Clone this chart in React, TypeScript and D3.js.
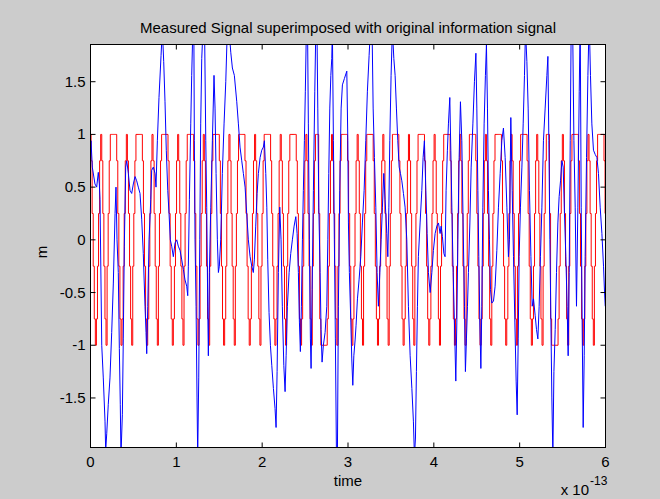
import React from "react";
import * as d3 from "d3";

const title = "Measured Signal superimposed with original information signal";
const xLabel = "time";
const yLabel = "m";
const xExponent = "-13";
const xTicks = [0, 1, 2, 3, 4, 5, 6];
const yTicks = [-1.5, -1, -0.5, 0, 0.5, 1, 1.5];
const xDomain = [0, 6];
const yDomain = [-1.97, 1.853];

// original information signal (red), held samples, time in units of 1e-13
const redStart = -0.0681;
const redStep = 0.01245;
const redLevel: Record<string, number> = { A: 1, B: 0.75, C: 0.25, c: -0.25, b: -0.75, a: -1 };
// one string per carrier period (24 held samples each)
const redPeriods = [
  "AAAAAABCcbabcCBABCcbacCB",
  "AAAAAABCcbabcCBABCcbacCB",
  "AAAAAABCcbabcCBABCcbacCB",
  "AAAAAABCcbabcCBABCcbacCB",
  "AAAAAABCcbabcCBABCcbacCB",
  "AAAAAABCcbabcCBABCcbacCB",
  "AAAAAABCcbabcCBABCcbacCB",
  "AAAAAABCcbabcCBABCcbacCB",
  "AAAAAABCcbabcCBABCcbacCB",
  "AAACbaaaaaabcCBABCcbacCB",
  "AAAAAABCcbabcCBABCcbacCB",
  "AAAAAABCcbabcCBABCcbacCB",
  "AAAAAABCcbabcCBABCcbacCB",
  "AAAAAABCcbabcCBABCcbacCB",
  "AAAAAABCcbabcCBABCcbacCB",
  "AAAAAABCcbabcCBABCcbacCB",
  "AAAAAABCcbabcCBABCcbacCB",
  "AAAAAABCcbabcCBABCcbacCB",
  "AAACbaaaaaabcCBABCcbacCB",
  "AAAAAABCcbabcCBABCcbacCB",
  "AAAAAABCcbabcCBABCcbacCB",
];

// measured signal (blue): [time x 1e-13, value]
const blueSamples: [number, number][] = [
  [0, 0.85], [0.006, 0.94], [0.021, 0.69], [0.052, 0.53], [0.072, 0.5], [0.091, 0.64], [0.103, 0.53], [0.111, 0.38],
  [0.131, -1.0], [0.149, -1.31], [0.169, -1.72], [0.177, -2.0], [0.189, -1.84], [0.207, -1.56], [0.227, -1.31], [0.247, -0.88],
  [0.266, -0.41], [0.286, 0.25], [0.297, 0.5], [0.309, 0], [0.324, -0.31], [0.336, -1.03], [0.347, -1.56], [0.355, -2.05],
  [0.371, -1.66], [0.382, -0.94], [0.394, -0.06], [0.41, 0.69], [0.422, 0.75], [0.441, 0.63], [0.46, 0.47], [0.48, 0.44],
  [0.499, 0.53], [0.519, 0.6], [0.538, 0.56], [0.557, 0.5], [0.577, 0.44], [0.597, 0.19], [0.615, -0.13], [0.635, -0.63],
  [0.647, -0.88], [0.655, -1.08], [0.667, -0.63], [0.682, 0], [0.702, 0.38], [0.713, 0.66], [0.732, 0.69], [0.752, 0.63],
  [0.763, 0.5], [0.779, 0.94], [0.798, 1.35], [0.822, 1.75], [0.837, 2.0], [0.853, 1.69], [0.868, 1.31], [0.883, 0.85],
  [0.9, 0.47], [0.915, 0.25], [0.93, 0], [0.946, -0.06], [0.965, -0.16], [0.985, -0.03], [1.005, 0], [1.023, -0.06],
  [1.043, -0.1], [1.063, -0.19], [1.082, -0.28], [1.101, -0.38], [1.121, -0.44], [1.133, -0.53], [1.14, -0.25], [1.152, 0.38],
  [1.168, 1.1], [1.179, 1.56], [1.191, 1.95], [1.203, 2.2], [1.21, 0.94], [1.218, 0], [1.23, -0.63], [1.241, -1.5],
  [1.249, -2.05], [1.261, -1.31], [1.273, 0], [1.284, 1.1], [1.296, 1.72], [1.308, 1.95], [1.319, 2.2], [1.331, 1.85],
  [1.343, 0.94], [1.354, 0.31], [1.366, -0.63], [1.373, -1.1], [1.385, -0.31], [1.401, 0.31], [1.42, 0.94], [1.439, 1.56],
  [1.451, 1.25], [1.463, 0.63], [1.478, 0], [1.49, -0.31], [1.501, -0.25], [1.517, 0], [1.536, 0.63], [1.556, 1.1],
  [1.576, 1.5], [1.594, 2.0], [1.614, 2.0], [1.634, 1.78], [1.653, 1.63], [1.676, 1.56], [1.704, 1.31], [1.723, 1.1],
  [1.742, 0.88], [1.762, 0.75], [1.781, 0.63], [1.801, 0.5], [1.82, 0.25], [1.839, 0], [1.859, -0.16], [1.879, -0.25],
  [1.897, -0.31], [1.909, -0.19], [1.925, 0.13], [1.941, 0.44], [1.956, 0.63], [1.976, 0.78], [1.995, 0.85], [2.014, 0.88],
  [2.026, 0.94], [2.042, 0.63], [2.054, 0.31], [2.065, -0.19], [2.08, -0.69], [2.096, -1.0], [2.112, -1.19], [2.131, -1.41],
  [2.15, -1.6], [2.162, -1.78], [2.174, -1.25], [2.189, -0.31], [2.205, 0.31], [2.22, 0], [2.235, -0.63], [2.252, -1.19],
  [2.267, -1.44], [2.279, -1.1], [2.294, -0.63], [2.314, -0.31], [2.333, -0.13], [2.352, 0], [2.372, 0.13], [2.392, 0.22],
  [2.407, 0.06], [2.422, -0.31], [2.434, -0.78], [2.445, -1.06], [2.457, -0.63], [2.469, 0], [2.48, 0.47], [2.492, 0.94],
  [2.503, 1.41], [2.515, 2.0], [2.527, 2.2], [2.538, 1.1], [2.55, 0], [2.562, -0.94], [2.57, -1.22], [2.582, -0.47],
  [2.597, 0.47], [2.613, 1.41], [2.625, 2.0], [2.636, 2.2], [2.648, 1.25], [2.66, 0.31], [2.675, -0.31], [2.686, -0.85],
  [2.698, -1.16], [2.713, -1.0], [2.733, -0.88], [2.753, -0.63], [2.765, 0], [2.776, 0.63], [2.788, 1.25], [2.8, 1.56],
  [2.811, 1.72], [2.818, 2.0], [2.83, 0.94], [2.841, 0], [2.853, -0.94], [2.865, -2.0], [2.876, -2.1], [2.888, -0.63],
  [2.904, 0.47], [2.92, 1.25], [2.935, 1.47], [2.958, 1.53], [2.986, 1.6], [2.998, 0.94], [3.005, 0.16], [3.016, -0.31],
  [3.033, -0.78], [3.044, -1.13], [3.056, -1.38], [3.068, -1.1], [3.083, -0.95], [3.094, -0.81], [3.11, -0.56], [3.129, -0.38],
  [3.149, -0.16], [3.168, 0.16], [3.188, 0.47], [3.207, 0.94], [3.226, 1.41], [3.246, 1.75], [3.261, 2.0], [3.277, 2.2],
  [3.293, 1.25], [3.308, 0.78], [3.324, 0.31], [3.339, -0.31], [3.354, -0.63], [3.371, -0.31], [3.386, 0], [3.401, 0.31],
  [3.417, 0.63], [3.432, 0.38], [3.452, 0.06], [3.464, -0.16], [3.476, 0.31], [3.487, 0.94], [3.502, 1.56], [3.517, 2.0],
  [3.534, 1.72], [3.549, 1.56], [3.564, 1.25], [3.58, 0.94], [3.596, 0.69], [3.611, 0.63], [3.627, 0.56], [3.646, 0.44],
  [3.665, 0.31], [3.685, 0], [3.704, -0.63], [3.724, -1.1], [3.744, -1.41], [3.762, -1.72], [3.774, -2.05], [3.786, -1.88],
  [3.797, -1.25], [3.809, -0.63], [3.82, -0.16], [3.84, 0.16], [3.86, 0.47], [3.875, 0.78], [3.89, 0.94], [3.907, 0.47],
  [3.922, 0.06], [3.937, -0.31], [3.957, -0.5], [3.977, -0.31], [3.995, -0.1], [4.015, 0.06], [4.035, 0.13], [4.054, 0.16],
  [4.073, 0.06], [4.085, 0.13], [4.1, 0.03], [4.117, -0.13], [4.131, -0.16], [4.143, 0.47], [4.158, 0.85], [4.17, 1.1],
  [4.186, 1.35], [4.198, 0.85], [4.21, 0.31], [4.225, -0.31], [4.24, -0.78], [4.256, -1.34], [4.268, -0.78], [4.28, 0],
  [4.295, 0.78], [4.31, 1.31], [4.326, 0.94], [4.341, 0.16], [4.357, -0.63], [4.368, -1.25], [4.38, -0.94], [4.392, -0.63],
  [4.403, -0.31], [4.42, 0.16], [4.435, 0.69], [4.455, 1.1], [4.473, 1.5], [4.49, 1.77], [4.501, 1.25], [4.513, 0.47],
  [4.524, -0.16], [4.536, -0.78], [4.548, -1.22], [4.559, -0.63], [4.571, 0.31], [4.586, 1.1], [4.601, 1.56], [4.613, 1.85],
  [4.625, 1.25], [4.636, 0.47], [4.648, 0], [4.66, -0.47], [4.676, -0.6], [4.695, -0.58], [4.714, -0.44], [4.734, -0.1],
  [4.753, 0.31], [4.773, 0.63], [4.792, 0.94], [4.811, 1.06], [4.831, 0.78], [4.851, 0.31], [4.869, -0.16], [4.881, 0],
  [4.897, 1.16], [4.913, 0.47], [4.928, -0.16], [4.944, -0.78], [4.959, -1.34], [4.971, -1.66], [4.983, -0.94], [4.994, -0.16],
  [5.009, 0.31], [5.026, 0.69], [5.041, 1.1], [5.056, 1.56], [5.068, 2.0], [5.084, 1.69], [5.099, 1.25], [5.114, 0.47],
  [5.131, -0.16], [5.146, -0.63], [5.161, -0.56], [5.181, -0.72], [5.196, -0.85], [5.212, -0.94], [5.227, -0.63], [5.242, -0.16],
  [5.259, 0.31], [5.277, 0.94], [5.297, 1.25], [5.317, 1.56], [5.329, 1.74], [5.34, 0.94], [5.352, 0], [5.364, -0.78],
  [5.375, -1.5], [5.387, -2.05], [5.399, -1.25], [5.414, -0.85], [5.429, -0.31], [5.445, 0.16], [5.46, 0.41], [5.476, 0.56],
  [5.492, 0.75], [5.507, 0.69], [5.522, 0.25], [5.538, -0.16], [5.553, -0.63], [5.565, -1.1], [5.577, -0.31], [5.589, 0.94],
  [5.6, 2.0], [5.615, 2.2], [5.632, 0.94], [5.647, 0.31], [5.662, -0.63], [5.678, 0.31], [5.694, 1.41], [5.705, 2.1],
  [5.717, 0.31], [5.728, -0.78], [5.74, -1.78], [5.752, -1.1], [5.763, -0.16], [5.779, 0.78], [5.795, 1.56], [5.81, 2.1],
  [5.825, 1.56], [5.841, 1.1], [5.86, 0.85], [5.88, 0.81], [5.9, 0.78], [5.918, 0.63], [5.938, 0.31], [5.958, 0.06],
  [5.977, -0.25], [5.989, -0.5], [5.997, -0.63],
];

const W = 660;
const H = 499;
const plot = { left: 90.5, right: 605.5, top: 44.5, bottom: 447.5 };
const font = "'Liberation Sans', Arial, Helvetica, sans-serif";
const tickLen = 5;

export default function App() {
  const x = d3.scaleLinear().domain(xDomain).range([plot.left, plot.right]);
  const y = d3.scaleLinear().domain(yDomain).range([plot.bottom, plot.top]);

  const redPts: [number, number][] = redPeriods
    .join("")
    .split("")
    .map((ch, i) => [redStart + i * redStep, redLevel[ch]]);
  const last = redPts[redPts.length - 1];
  redPts.push([last[0] + redStep, last[1]]);

  const stepLine = d3
    .line<[number, number]>()
    .x((d) => x(d[0]))
    .y((d) => y(d[1]))
    .curve(d3.curveStepAfter);
  const plainLine = d3
    .line<[number, number]>()
    .x((d) => x(d[0]))
    .y((d) => y(d[1]));

  const cx = (plot.left + plot.right) / 2;

  return (
    <svg
      width={W}
      height={H}
      style={{ position: "absolute", left: 0, top: 0, background: "#cccccc" }}
      fontFamily={font}
    >
      <defs>
        <clipPath id="plotClip">
          <rect x={plot.left} y={plot.top} width={plot.right - plot.left} height={plot.bottom - plot.top} />
        </clipPath>
      </defs>
      <rect x={0} y={0} width={W} height={H} fill="#cccccc" />
      <rect x={plot.left} y={plot.top} width={plot.right - plot.left} height={plot.bottom - plot.top} fill="#ffffff" />

      <g clipPath="url(#plotClip)">
        <path d={stepLine(redPts) || ""} fill="none" stroke="#ff0000" strokeWidth={1} />
        <path d={plainLine(blueSamples) || ""} fill="none" stroke="#0000ff" strokeWidth={1} />
      </g>

      {/* ticks on all four sides, pointing inward */}
      <g stroke="#000" strokeWidth={1}>
        {xTicks.map((t) => (
          <g key={"xt" + t}>
            <line x1={x(t)} x2={x(t)} y1={plot.bottom} y2={plot.bottom - tickLen} />
            <line x1={x(t)} x2={x(t)} y1={plot.top} y2={plot.top + tickLen} />
          </g>
        ))}
        {yTicks.map((t) => (
          <g key={"yt" + t}>
            <line x1={plot.left} x2={plot.left + tickLen} y1={y(t)} y2={y(t)} />
            <line x1={plot.right} x2={plot.right - tickLen} y1={y(t)} y2={y(t)} />
          </g>
        ))}
      </g>
      <rect
        x={plot.left}
        y={plot.top}
        width={plot.right - plot.left}
        height={plot.bottom - plot.top}
        fill="none"
        stroke="#000"
        strokeWidth={1}
      />

      <g fontSize={15} fill="#000">
        {xTicks.map((t) => (
          <text key={"xl" + t} x={x(t)} y={plot.bottom + 19} textAnchor="middle">
            {String(t)}
          </text>
        ))}
        {yTicks.map((t) => (
          <text key={"yl" + t} x={plot.left - 5} y={y(t) + 5} textAnchor="end">
            {String(t)}
          </text>
        ))}
        <text x={cx} y={33} textAnchor="middle">
          {title}
        </text>
        <text x={cx} y={plot.bottom + 38} textAnchor="middle">
          {xLabel}
        </text>
        <text transform={`translate(47,${(plot.top + plot.bottom) / 2 + 6}) rotate(-90)`} textAnchor="middle">
          {yLabel}
        </text>
        <text x={589} y={495} textAnchor="end">
          x 10
        </text>
        <text x={590} y={485} fontSize={12}>
          {xExponent}
        </text>
      </g>
    </svg>
  );
}
